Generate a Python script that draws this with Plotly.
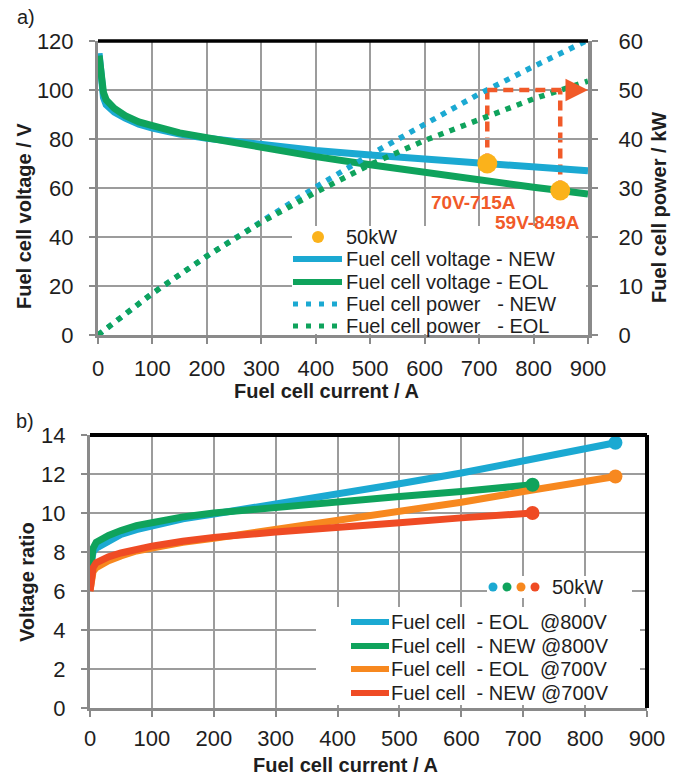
import plotly.graph_objects as go

# ---------------- data: panel a) ----------------
current_v = [2, 5, 10, 15, 20, 30, 50, 75, 100, 150, 200, 300, 400, 500, 600, 700, 715, 800, 849, 900]
voltage_new = [115, 105, 97, 94, 93, 91, 88.5, 86, 84.5, 82, 80.3, 77.5, 75.3, 73.5, 71.8, 70.3, 70, 68.5, 67.8, 67]
voltage_eol = [114, 106, 99, 96, 94.5, 92.5, 89.5, 87, 85.5, 82.5, 80.5, 76.5, 72.8, 69.5, 66.2, 63, 62.5, 60.3, 59, 57.5]

current_p = [0, 100, 200, 300, 400, 500, 600, 700, 800, 900]
power_new = [0, 8.5, 16.1, 23.3, 30.2, 36.8, 43.1, 49.2, 54.8, 60.2]
power_eol = [0, 8.5, 16.1, 23.0, 29.1, 34.8, 39.7, 44.1, 48.2, 51.8]

op_current = [715, 849]
op_voltage = [70, 59]
op_labels = ["70V-715A", "59V-849A"]
target_power = 50  # kW

legend_a = ["50kW", "Fuel cell voltage - NEW", "Fuel cell voltage - EOL",
            "Fuel cell power\u00a0\u00a0\u00a0- NEW", "Fuel cell power\u00a0\u00a0\u00a0- EOL"]

# ---------------- data: panel b) ----------------
cur_eol = [0, 2, 5, 10, 20, 30, 50, 75, 100, 150, 200, 300, 400, 500, 600, 700, 800, 849]
cur_new = [0, 2, 5, 10, 20, 30, 50, 75, 100, 150, 200, 300, 400, 500, 600, 700, 715]
ratio_eol_800 = [7.0, 7.6, 8.0, 8.2, 8.4, 8.6, 8.9, 9.15, 9.35, 9.7, 9.95, 10.45, 11.0, 11.5, 12.05, 12.65, 13.25, 13.6]
ratio_new_800 = [7.0, 7.7, 8.2, 8.5, 8.7, 8.85, 9.1, 9.35, 9.5, 9.8, 10.0, 10.3, 10.55, 10.85, 11.1, 11.4, 11.45]
ratio_eol_700 = [6.0, 6.6, 7.0, 7.2, 7.4, 7.55, 7.8, 8.05, 8.2, 8.5, 8.7, 9.15, 9.6, 10.05, 10.55, 11.1, 11.6, 11.87]
ratio_new_700 = [6.0, 6.8, 7.2, 7.45, 7.6, 7.75, 7.95, 8.15, 8.3, 8.55, 8.75, 9.02, 9.3, 9.5, 9.75, 9.95, 10.0]

legend_b = ["Fuel cell\u00a0\u00a0- EOL\u00a0\u00a0@800V", "Fuel cell\u00a0\u00a0- NEW @800V",
            "Fuel cell\u00a0\u00a0- EOL\u00a0\u00a0@700V", "Fuel cell\u00a0\u00a0- NEW @700V"]

x_ticks = list(range(0, 901, 100))
X_MAX = 900
Y1_MAX, Y2_MAX, Y3_MAX = 120, 60, 14

# ---------------- style ----------------
W, H = 683, 776
FONT = "Liberation Sans, Arial, Helvetica, sans-serif"
CYAN = "#1BA9D2"
GREEN = "#0FA35C"
ORANGE = "#F7881F"
RED = "#EF4B24"
YELLOW = "#FBB21B"
ARROW = "#F15A29"
GRID = "#9C9C9C"
AXIS = "#8A8A8A"
TXT = "#1E1E1E"


def px(x):
    return x / W


def py(y):
    return 1 - y / H


fig = go.Figure()

# ---- panel a traces ----
fig.add_trace(go.Scatter(x=current_v, y=voltage_new, mode="lines", name=legend_a[1],
                         line=dict(color=CYAN, width=7), xaxis="x", yaxis="y"))
fig.add_trace(go.Scatter(x=current_v, y=voltage_eol, mode="lines", name=legend_a[2],
                         line=dict(color=GREEN, width=7), xaxis="x", yaxis="y"))
fig.add_trace(go.Scatter(x=op_current, y=op_voltage, mode="markers", name=legend_a[0],
                         marker=dict(color=YELLOW, size=20), xaxis="x", yaxis="y"))
fig.add_trace(go.Scatter(x=current_p, y=power_new, mode="lines", name=legend_a[3],
                         line=dict(color=CYAN, width=5.5, dash="5.5px,6.5px"), xaxis="x", yaxis="y2"))
fig.add_trace(go.Scatter(x=current_p, y=power_eol, mode="lines", name=legend_a[4],
                         line=dict(color=GREEN, width=5.5, dash="5.5px,6.5px"), xaxis="x", yaxis="y2"))

# ---- panel b traces ----
series_b = [
    (cur_eol, ratio_eol_800, CYAN, legend_b[0]),
    (cur_new, ratio_new_800, GREEN, legend_b[1]),
    (cur_eol, ratio_eol_700, ORANGE, legend_b[2]),
    (cur_new, ratio_new_700, RED, legend_b[3]),
]
for xs, ys, col, nm in series_b:
    fig.add_trace(go.Scatter(x=xs, y=ys, mode="lines", name=nm, line=dict(color=col, width=7),
                             xaxis="x3", yaxis="y3"))
for xs, ys, col, nm in series_b:
    fig.add_trace(go.Scatter(x=[xs[-1]], y=[ys[-1]], mode="markers", name=nm + " (50kW)",
                             marker=dict(color=col, size=14), xaxis="x3", yaxis="y3"))

# ---------------- axes ----------------
tickfont = dict(family=FONT, size=22, color=TXT)
common = dict(showgrid=True, gridcolor=GRID, gridwidth=1.5, zeroline=False, showline=True,
              linecolor=AXIS, linewidth=3, ticks="outside", ticklen=6, tickcolor=AXIS, tickwidth=2,
              tickfont=tickfont, automargin=False)

fig.update_layout(
    template="none",
    xaxis=dict(domain=[px(98), px(588)], range=[0, X_MAX], tickvals=x_ticks, anchor="y",
               ticklabelstandoff=6, **common),
    yaxis=dict(domain=[py(335), py(41)], range=[0, Y1_MAX], dtick=20, anchor="x",
               ticklabelstandoff=11, **common),
    yaxis2=dict(range=[0, Y2_MAX], dtick=10, overlaying="y", side="right", anchor="x",
                showgrid=False, zeroline=False, showline=True, linecolor=AXIS, linewidth=4,
                ticks="outside", ticklen=6, tickcolor=AXIS, tickwidth=2, tickfont=tickfont,
                ticklabelstandoff=16, automargin=False),
    xaxis3=dict(domain=[px(90), px(647)], range=[0, X_MAX], tickvals=x_ticks, anchor="y3",
                ticklabelstandoff=3, **common),
    yaxis3=dict(domain=[py(708), py(435)], range=[0, Y3_MAX], dtick=2, anchor="x3",
                ticklabelstandoff=11, **common),
)

# ---------------- shapes ----------------
shapes = [
    dict(type="line", xref="x domain", yref="y domain", x0=0, x1=1, y0=1, y1=1,
         line=dict(color="black", width=3.5), layer="above"),
    dict(type="line", xref="x3 domain", yref="y3 domain", x0=0, x1=1, y0=1, y1=1,
         line=dict(color="black", width=4), layer="above"),
    dict(type="line", xref="x3 domain", yref="y3 domain", x0=1, x1=1, y0=0, y1=1,
         line=dict(color="black", width=4), layer="above"),
]
y_target_left = target_power * Y1_MAX / Y2_MAX
for cx, vy in zip(op_current, op_voltage):
    shapes.append(dict(type="line", xref="x", yref="y", x0=cx, x1=cx, y0=vy, y1=y_target_left,
                       line=dict(color=ARROW, width=4.5, dash="10px,6px"), layer="below"))
shapes.append(dict(type="line", xref="x", yref="y", x0=op_current[0], x1=X_MAX - 20,
                   y0=y_target_left, y1=y_target_left,
                   line=dict(color=ARROW, width=4.5, dash="10px,6px"), layer="above"))

# ---- custom legend, panel a ----
shapes.append(dict(type="rect", xref="paper", yref="paper", x0=px(292), x1=px(586), y0=py(226), y1=py(334),
                   fillcolor="white", line=dict(width=0), layer="above"))
rows_a = [237, 259, 282, 304, 326]
shapes.append(dict(type="circle", xref="paper", yref="paper", x0=px(312), x1=px(324),
                   y0=py(rows_a[0] - 6), y1=py(rows_a[0] + 6), fillcolor=YELLOW, line=dict(width=0),
                   layer="above"))
for r, col, dash, wd in [(rows_a[1], CYAN, "solid", 6), (rows_a[2], GREEN, "solid", 6),
                         (rows_a[3], CYAN, "5px,8px", 5), (rows_a[4], GREEN, "5px,8px", 5)]:
    shapes.append(dict(type="line", xref="paper", yref="paper", x0=px(293), x1=px(342), y0=py(r), y1=py(r),
                       line=dict(color=col, width=wd, dash=dash), layer="above"))

# ---- custom legend, panel b ----
shapes.append(dict(type="rect", xref="paper", yref="paper", x0=px(316), x1=px(640), y0=py(607), y1=py(705),
                   fillcolor="white", line=dict(width=0), layer="above"))
rows_b = [622, 646, 669, 693]
for r, (_, _, col, _) in zip(rows_b, series_b):
    shapes.append(dict(type="line", xref="paper", yref="paper", x0=px(351), x1=px(389), y0=py(r), y1=py(r),
                       line=dict(color=col, width=6), layer="above"))
shapes.append(dict(type="rect", xref="paper", yref="paper", x0=px(487), x1=px(632), y0=py(576), y1=py(598),
                   fillcolor="white", line=dict(width=0), layer="above"))
for cxp, (_, _, col, _) in zip([493, 507, 521, 535], series_b):
    shapes.append(dict(type="circle", xref="paper", yref="paper", x0=px(cxp - 4.5), x1=px(cxp + 4.5),
                       y0=py(587 - 4.5), y1=py(587 + 4.5), fillcolor=col, line=dict(width=0), layer="above"))
fig.update_layout(shapes=shapes)

# ---------------- annotations ----------------
ann = []
ann.append(dict(x=X_MAX, y=y_target_left, xref="x", yref="y", ax=-18, ay=0, axref="pixel", ayref="pixel",
                showarrow=True, arrowhead=2, arrowsize=1, arrowwidth=4.5, arrowcolor=ARROW, text="",
                standoff=0))


def label(x, y, text, font, angle=0, xanchor="center"):
    return dict(x=px(x), y=py(y), xref="paper", yref="paper", xanchor=xanchor, yanchor="middle",
                text=text, showarrow=False, textangle=angle, font=font)


afont = dict(family=FONT, size=19, color=ARROW)
ann.append(label(473, 203, "<b>%s</b>" % op_labels[0], afont))
ann.append(label(537, 222, "<b>%s</b>" % op_labels[1], afont))
lfont = dict(family=FONT, size=20, color=TXT)
for r, t in zip(rows_a, legend_a):
    ann.append(label(344, r, t, lfont, xanchor="left"))
for r, t in zip(rows_b, legend_b):
    ann.append(label(389, r, t, lfont, xanchor="left"))
ann.append(label(550, 587, "50kW", lfont, xanchor="left"))
# axis titles
tfont = dict(family=FONT, size=20, color=TXT)
ann.append(label(326, 391, "<b>Fuel cell current / A</b>", tfont))
ann.append(label(24, 216, "<b>Fuel cell voltage / V</b>", tfont, angle=-90))
ann.append(label(659, 208, "<b>Fuel cell power / kW</b>", tfont, angle=-90))
ann.append(label(345, 765, "<b>Fuel cell current / A</b>", tfont))
ann.append(label(27, 582, "<b>Voltage ratio</b>", tfont, angle=-90))
ann.append(label(26, 17, "a)", lfont))
ann.append(label(25, 421, "b)", lfont))
fig.update_layout(annotations=ann)

fig.update_layout(width=W, height=H, margin=dict(l=0, r=0, t=0, b=0, pad=0, autoexpand=False),
                  paper_bgcolor="white", plot_bgcolor="white", showlegend=False)

fig.write_html("out.html")
